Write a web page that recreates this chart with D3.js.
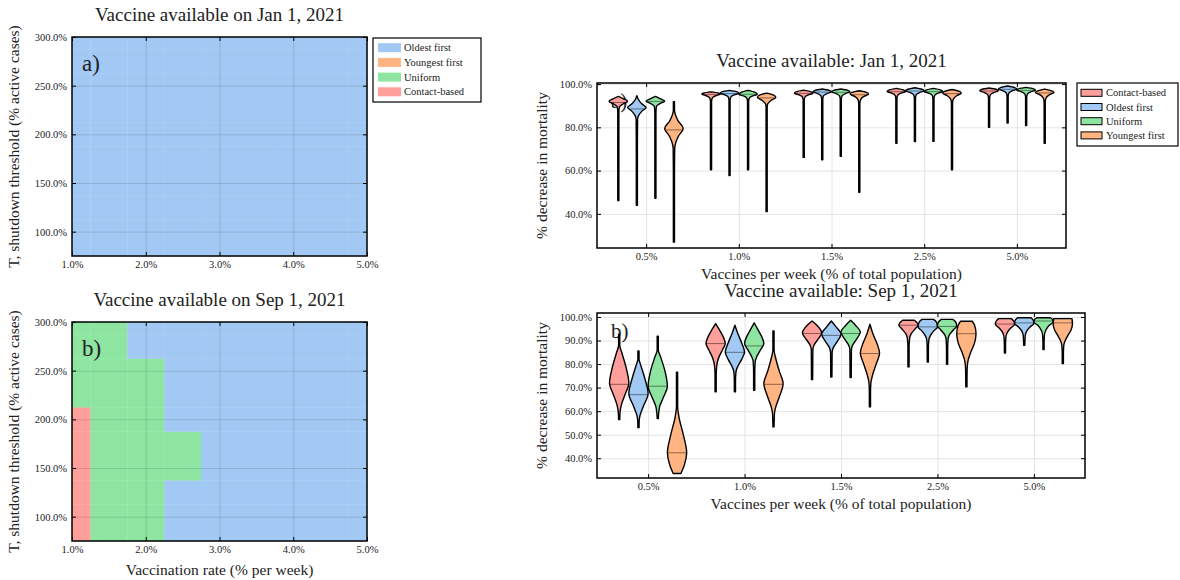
<!DOCTYPE html>
<html>
<head>
<meta charset="utf-8">
<script src="https://cdn.jsdelivr.net/npm/d3@7"></script>
<style>
  html, body { margin: 0; padding: 0; background: #fff; }
  svg { display: block; font-family: "Liberation Serif", "DejaVu Serif", serif; }
</style>
</head>
<body>
<svg id="fig" width="1180" height="580"></svg>
<script>
// ---- Heatmaps: best strategy by vaccination rate and shutdown threshold ----
const rates = [1.0, 1.5, 2.0, 2.5, 3.0, 3.5, 4.0, 4.5, 5.0];          // % per week
const thresholds = [75, 100, 125, 150, 175, 200, 225, 250, 275, 300]; // % active cases
const rateTicks = [1, 2, 3, 4, 5];
const thresholdTicks = [100, 150, 200, 250, 300];
const strategyNames = ["Oldest first", "Youngest first", "Uniform", "Contact-based"];
const strategyColors = ["#a1c9f4", "#ffb482", "#8de5a1", "#ff9f9b"];

// index into strategyNames, one row per threshold (75 → 300), one column per rate
const janBest = [
  [0, 0, 0, 0, 0, 0, 0, 0, 0],
  [0, 0, 0, 0, 0, 0, 0, 0, 0],
  [0, 0, 0, 0, 0, 0, 0, 0, 0],
  [0, 0, 0, 0, 0, 0, 0, 0, 0],
  [0, 0, 0, 0, 0, 0, 0, 0, 0],
  [0, 0, 0, 0, 0, 0, 0, 0, 0],
  [0, 0, 0, 0, 0, 0, 0, 0, 0],
  [0, 0, 0, 0, 0, 0, 0, 0, 0],
  [0, 0, 0, 0, 0, 0, 0, 0, 0],
  [0, 0, 0, 0, 0, 0, 0, 0, 0]
];
const sepBest = [
  [3, 2, 2, 0, 0, 0, 0, 0, 0],
  [3, 2, 2, 0, 0, 0, 0, 0, 0],
  [3, 2, 2, 0, 0, 0, 0, 0, 0],
  [3, 2, 2, 2, 0, 0, 0, 0, 0],
  [3, 2, 2, 2, 0, 0, 0, 0, 0],
  [3, 2, 2, 0, 0, 0, 0, 0, 0],
  [2, 2, 2, 0, 0, 0, 0, 0, 0],
  [2, 2, 2, 0, 0, 0, 0, 0, 0],
  [2, 2, 0, 0, 0, 0, 0, 0, 0],
  [2, 2, 0, 0, 0, 0, 0, 0, 0]
];

// ---- Violins: % decrease in mortality per dose rate and strategy ----
const doseGroups = ["0.5%", "1.0%", "1.5%", "2.5%", "5.0%"];
const violinStrategies = ["Contact-based", "Oldest first", "Uniform", "Youngest first"];
const violinColors = ["#ff9f9b", "#a1c9f4", "#8de5a1", "#ffb482"];
const janTicks = [40, 60, 80, 100];
const sepTicks = [40, 50, 60, 70, 80, 90, 100];

// density outline knots [value, relative half-width], from the top of each violin down
const janProfiles = [
  [ // 0.5%
    [[94.3,0],[93.2,0.55],[92.0,1],[90.8,0.5],[89.5,0.12],[87,0.06],[46.1,0.06]],
    [[94.6,0],[93,0.15],[91,0.5],[89.2,1],[87.5,0.55],[85.5,0.2],[83.8,0.08],[70,0.06],[44,0.06]],
    [[94.3,0],[93.3,0.5],[92.1,1],[91,0.5],[89.8,0.12],[87,0.06],[47.2,0.06]],
    [[91.8,0.06],[88,0.06],[86,0.15],[83,0.45],[79.5,1],[76,0.5],[73,0.2],[70,0.08],[60,0.06],[26.9,0.06]]
  ],
  [ // 1.0%
    [[96.4,0],[95.9,0.75],[95.4,1],[94.6,0.5],[93.6,0.14],[92,0.06],[60.4,0.06]],
    [[97.1,0],[96.5,0.75],[95.8,1],[95,0.5],[94,0.14],[92.5,0.06],[57.7,0.06]],
    [[97.1,0],[96.2,0.75],[95.3,1],[94.5,0.5],[93.5,0.14],[92,0.06],[60.4,0.06]],
    [[95.8,0],[95,0.7],[93.9,1],[92.5,0.5],[91,0.14],[89.5,0.06],[41,0.06]]
  ],
  [ // 1.5%
    [[97.2,0],[96.5,0.75],[95.8,1],[95,0.5],[94,0.14],[92.5,0.06],[66.1,0.06]],
    [[97.7,0],[97.1,0.75],[96.4,1],[95.6,0.5],[94.6,0.14],[93,0.06],[65,0.06]],
    [[97.7,0],[97.1,0.75],[96.4,1],[95.6,0.5],[94.6,0.14],[93,0.06],[66.6,0.06]],
    [[96.9,0],[96.2,0.75],[95.4,1],[94.3,0.5],[92.8,0.14],[91,0.06],[50,0.06]]
  ],
  [ // 2.5%
    [[98,0],[97.3,0.75],[96.6,1],[95.8,0.5],[94.8,0.14],[93.3,0.06],[72.6,0.06]],
    [[98.3,0],[97.6,0.75],[96.9,1],[96.1,0.5],[95.1,0.14],[93.6,0.06],[73.4,0.06]],
    [[98,0],[97.3,0.75],[96.6,1],[95.8,0.5],[94.8,0.14],[93.3,0.06],[73.5,0.06]],
    [[97.5,0],[96.7,0.75],[95.8,1],[94.6,0.5],[93,0.14],[91.3,0.06],[60.4,0.06]]
  ],
  [ // 5.0%
    [[98.2,0],[97.6,0.75],[96.9,1],[96.1,0.5],[95.1,0.14],[93.6,0.06],[80,0.06]],
    [[99.1,0],[98.4,0.75],[97.7,1],[96.9,0.5],[95.9,0.14],[94.4,0.06],[82,0.06]],
    [[98.5,0],[97.9,0.75],[97.2,1],[96.4,0.5],[95.4,0.14],[93.9,0.06],[80.8,0.06]],
    [[97.7,0],[96.9,0.75],[96.1,1],[95,0.5],[93.5,0.14],[91.8,0.06],[72.6,0.06]]
  ]
];
const janMedians = [
  [91.5, 88.5, 92.0, 78.8],
  [95.2, 95.6, 95.3, 93.6],
  [95.7, 96.3, 96.2, 95.1],
  [96.5, 96.8, 96.5, 95.6],
  [96.8, 97.6, 97.1, 95.9]
];

const sepProfiles = [
  [ // 0.5%
    [[92.7,0.06],[88,0.06],[84.5,0.3],[78,0.75],[72,1],[67,0.6],[63,0.25],[60,0.1],[56.4,0.06]],
    [[85.6,0.06],[82,0.06],[80,0.2],[74,0.65],[67.5,1],[62,0.5],[58,0.15],[55.5,0.07],[53,0.06]],
    [[91.8,0.06],[86,0.06],[83,0.3],[77,0.75],[70.6,1],[66,0.6],[62,0.2],[59,0.09],[56.9,0.06]],
    [[76.6,0.06],[62,0.06],[57.5,0.2],[50,0.65],[42.3,1],[37,0.75],[33.5,0.4]]
  ],
  [ // 1.0%
    [[97.2,0],[94.5,0.4],[91.5,0.8],[88.7,1],[86,0.7],[82.5,0.3],[79.5,0.12],[75,0.06],[68.2,0.06]],
    [[96.5,0],[93,0.3],[89,0.7],[85.1,1],[82,0.7],[79,0.3],[77,0.12],[73,0.06],[68.2,0.06]],
    [[97.5,0],[94.5,0.4],[91.5,0.8],[88.7,1],[86,0.65],[83,0.25],[81,0.1],[76,0.06],[68.9,0.06]],
    [[94.1,0.06],[86,0.06],[83,0.2],[77,0.6],[71.7,1],[66,0.6],[62,0.25],[59,0.1],[53.3,0.06]]
  ],
  [ // 1.5%
    [[98.3,0],[96.5,0.5],[93.2,1],[90.5,0.6],[88,0.2],[86,0.08],[73.4,0.06]],
    [[98.3,0],[96,0.45],[92.7,1],[89.5,0.6],[87,0.2],[85,0.08],[74.5,0.06]],
    [[98.6,0],[96.5,0.5],[93.6,1],[90.5,0.6],[88,0.2],[86,0.08],[74.3,0.06]],
    [[96.9,0],[93,0.3],[88.5,0.75],[84.7,1],[80,0.65],[75,0.25],[72,0.1],[68,0.06],[61.8,0.06]]
  ],
  [ // 2.5%
    [[98.6,0.6],[97.5,0.9],[96.5,1],[95,0.7],[93,0.3],[91,0.12],[87,0.06],[78.8,0.06]],
    [[99,0.6],[97.8,0.9],[95.8,1],[94,0.6],[92,0.25],[90,0.1],[86,0.06],[80.9,0.06]],
    [[99,0.6],[97.8,0.9],[96.2,1],[94.5,0.65],[92.5,0.25],[90.5,0.1],[86,0.06],[79.9,0.06]],
    [[98.2,0.6],[96.5,0.85],[93,1],[89,0.85],[85,0.45],[82,0.2],[78,0.08],[70.3,0.06]]
  ],
  [ // 5.0%
    [[99.3,0.65],[98.3,0.9],[96.9,1],[95.3,0.6],[93.5,0.25],[91.5,0.1],[88,0.06],[84.7,0.06]],
    [[99.7,0.7],[98.5,0.95],[97.2,1],[95.8,0.6],[94,0.25],[92,0.1],[88,0.06]],
    [[99.7,0.7],[98.8,0.95],[97.9,1],[96.5,0.6],[94.5,0.25],[92.5,0.1],[89,0.06],[86.2,0.06]],
    [[99.3,0.95],[97,1],[94.5,0.85],[92,0.5],[90,0.25],[88,0.1],[84,0.06],[80.2,0.06]]
  ]
];
const sepMedians = [
  [71.4, 67.0, 70.6, 42.3],
  [88.7, 85.0, 87.7, 71.4],
  [93.0, 92.2, 93.0, 84.5],
  [96.5, 95.8, 96.0, 92.9],
  [97.0, 97.5, 98.3, 97.5]
];

// ---------------------------------------------------------------------------
const svg = d3.select("#fig");
const FONT_TICK = 10.5, FONT_LABEL = 15.5, FONT_TITLE = 19;
const pct1 = d3.format(".1f");

function styleAxis(g) {
  g.select(".domain").remove();
  g.selectAll(".tick line").attr("stroke", "#000").attr("stroke-width", 1);
  g.selectAll(".tick text").attr("font-size", FONT_TICK)
    .attr("font-family", "Liberation Serif, serif").attr("fill", "#222");
}

function frame(box) {
  svg.append("rect")
    .attr("x", box.x0).attr("y", box.y0)
    .attr("width", box.x1 - box.x0).attr("height", box.y1 - box.y0)
    .attr("fill", "none").attr("stroke", "#000").attr("stroke-width", 1.5);
}

function textAt(x, y, str, size, anchor, rotate) {
  const t = svg.append("text")
    .attr("font-size", size).attr("fill", "#222")
    .attr("text-anchor", anchor || "middle")
    .text(str);
  if (rotate) t.attr("transform", `translate(${x},${y}) rotate(-90)`);
  else t.attr("x", x).attr("y", y);
  return t;
}

// ---------------- Heatmap panels ----------------
function heatmap(box, best, title, letter, xLabel) {
  const x = d3.scaleLinear().domain([1, 5]).range([box.x0, box.x1]);
  const y = d3.scaleLinear().domain([75, 300]).range([box.y1, box.y0]);
  const g = svg.append("g");
  const half = 0.25, halfT = 12.5;
  best.forEach((row, ti) => {
    row.forEach((s, ri) => {
      const xa = x(Math.max(1, rates[ri] - half)), xb = x(Math.min(5, rates[ri] + half));
      const ya = y(Math.min(300, thresholds[ti] + halfT)), yb = y(Math.max(75, thresholds[ti] - halfT));
      g.append("rect").attr("x", xa).attr("y", ya)
        .attr("width", xb - xa + 0.3).attr("height", yb - ya + 0.3)
        .attr("fill", strategyColors[s]);
    });
  });
  // grid
  svg.append("g").attr("transform", `translate(0,${box.y1})`)
    .call(d3.axisBottom(x).tickValues([2, 3, 4]).tickSize(-(box.y1 - box.y0)).tickFormat(""))
    .call(a => { a.select(".domain").remove(); a.selectAll("line").attr("stroke", "rgba(0,0,0,0.12)"); });
  svg.append("g").attr("transform", `translate(${box.x0},0)`)
    .call(d3.axisLeft(y).tickValues(thresholdTicks.slice(0, 4)).tickSize(-(box.x1 - box.x0)).tickFormat(""))
    .call(a => { a.select(".domain").remove(); a.selectAll("line").attr("stroke", "rgba(0,0,0,0.12)"); });
  // axes with inward ticks
  svg.append("g").attr("transform", `translate(0,${box.y1})`)
    .call(d3.axisBottom(x).tickValues(rateTicks).tickSize(-4).tickPadding(5).tickFormat(d => pct1(d) + "%"))
    .call(styleAxis);
  svg.append("g").attr("transform", `translate(0,${box.y0})`)
    .call(d3.axisTop(x).tickValues(rateTicks).tickSize(-4).tickFormat(""))
    .call(styleAxis);
  svg.append("g").attr("transform", `translate(${box.x0},0)`)
    .call(d3.axisLeft(y).tickValues(thresholdTicks).tickSize(-4).tickPadding(5).tickFormat(d => pct1(d) + "%"))
    .call(styleAxis);
  svg.append("g").attr("transform", `translate(${box.x1},0)`)
    .call(d3.axisRight(y).tickValues(thresholdTicks).tickSize(-4).tickFormat(""))
    .call(styleAxis);
  frame(box);
  textAt((box.x0 + box.x1) / 2, box.y0 - 16, title, FONT_TITLE);
  textAt(box.x0 + 10, box.y0 + 34, letter, 23, "start");
  textAt(box.x0 - 53, (box.y0 + box.y1) / 2, "T, shutdown threshold (% active cases)", FONT_LABEL, "middle", true);
  if (xLabel) textAt((box.x0 + box.x1) / 2, box.y1 + 34, xLabel, FONT_LABEL);
}

const L1 = { x0: 72, x1: 367, y0: 37, y1: 256 };
const L2 = { x0: 72, x1: 367, y0: 322, y1: 541 };
heatmap(L1, janBest, "Vaccine available on Jan 1, 2021", "a)");
heatmap(L2, sepBest, "Vaccine available on Sep 1, 2021", "b)", "Vaccination rate (% per week)");

// legend for heatmaps
(function () {
  const lx = 373, ly = 38;
  svg.append("rect").attr("x", lx).attr("y", ly).attr("width", 108).attr("height", 64)
    .attr("fill", "#fff").attr("stroke", "#000").attr("stroke-width", 1.2);
  strategyNames.forEach((n, i) => {
    const cy = ly + 9.7 + i * 14.7;
    svg.append("rect").attr("x", lx + 5).attr("y", cy - 4.5).attr("width", 23).attr("height", 9)
      .attr("fill", strategyColors[i]);
    textAt(lx + 31, cy + 3.5, n, 10.5, "start");
  });
})();

// ---------------- Violin panels ----------------
const offsets = [-0.3, -0.1, 0.1, 0.3];
const halfWidth = 0.1;

function violins(box, profiles, medians, yDomain, yTicks, title, letter) {
  const x = d3.scaleLinear().domain([0.47, 5.53]).range([box.x0, box.x1]);
  const y = d3.scaleLinear().domain(yDomain).range([box.y1, box.y0]);
  const wpx = x(1 + halfWidth) - x(1);
  // grid
  svg.append("g").attr("transform", `translate(0,${box.y1})`)
    .call(d3.axisBottom(x).tickValues([1, 2, 3, 4, 5]).tickSize(-(box.y1 - box.y0)).tickFormat(""))
    .call(a => { a.select(".domain").remove(); a.selectAll("line").attr("stroke", "#e4e4e4"); });
  svg.append("g").attr("transform", `translate(${box.x0},0)`)
    .call(d3.axisLeft(y).tickValues(yTicks).tickSize(-(box.x1 - box.x0)).tickFormat(""))
    .call(a => { a.select(".domain").remove(); a.selectAll("line").attr("stroke", "#e4e4e4"); });

  textAt(box.x0 + 14, box.y0 + 25, letter, 21, "start");

  const clipId = "clip" + Math.round(box.y0);
  svg.append("clipPath").attr("id", clipId).append("rect")
    .attr("x", box.x0).attr("y", box.y0).attr("width", box.x1 - box.x0).attr("height", box.y1 - box.y0);
  const vg = svg.append("g").attr("clip-path", `url(#${clipId})`);

  profiles.forEach((grp, gi) => {
    grp.forEach((prof, si) => {
      const cx = x(gi + 1 + offsets[si]);
      const area = d3.area()
        .y(d => y(d[0]))
        .x0(d => cx - d[1] * wpx)
        .x1(d => cx + d[1] * wpx)
        .curve(d3.curveMonotoneY);
      vg.append("path").attr("d", area(prof))
        .attr("fill", violinColors[si])
        .attr("stroke", "#000").attr("stroke-width", 1.4).attr("stroke-linejoin", "round");
      const m = medians[gi][si];
      const wAt = d3.scaleLinear().domain(prof.map(d => d[0])).range(prof.map(d => d[1])).clamp(true);
      const mw = wAt(m) * wpx;
      vg.append("line").attr("x1", cx - mw).attr("x2", cx + mw)
        .attr("y1", y(m)).attr("y2", y(m))
        .attr("stroke", "rgba(0,0,0,0.5)").attr("stroke-width", 0.9);
    });
  });

  svg.append("g").attr("transform", `translate(0,${box.y1})`)
    .call(d3.axisBottom(x).tickValues([1, 2, 3, 4, 5]).tickSize(-4).tickPadding(5).tickFormat(d => doseGroups[d - 1]))
    .call(styleAxis);
  svg.append("g").attr("transform", `translate(0,${box.y0})`)
    .call(d3.axisTop(x).tickValues([1, 2, 3, 4, 5]).tickSize(-4).tickFormat(""))
    .call(styleAxis);
  svg.append("g").attr("transform", `translate(${box.x0},0)`)
    .call(d3.axisLeft(y).tickValues(yTicks).tickSize(-4).tickPadding(5).tickFormat(d => pct1(d) + "%"))
    .call(styleAxis);
  svg.append("g").attr("transform", `translate(${box.x1},0)`)
    .call(d3.axisRight(y).tickValues(yTicks).tickSize(-4).tickFormat(""))
    .call(styleAxis);
  frame(box);
  textAt((box.x0 + box.x1) / 2, box.y0 - 16, title, FONT_TITLE);
  textAt((box.x0 + box.x1) / 2, box.y1 + 31, "Vaccines per week (% of total population)", FONT_LABEL);
  textAt(box.x0 - 50, (box.y0 + box.y1) / 2, "% decrease in mortality", FONT_LABEL, "middle", true);
}

const R1 = { x0: 597, x1: 1066, y0: 83, y1: 248 };
const R2 = { x0: 597, x1: 1085, y0: 313, y1: 478 };
violins(R1, janProfiles, janMedians, [24.2, 100.5], janTicks, "Vaccine available:  Jan 1, 2021", "a)");
violins(R2, sepProfiles, sepMedians, [31.6, 101.7], sepTicks, "Vaccine available:  Sep 1, 2021", "b)");

// legend for violins
(function () {
  const lx = 1077, ly = 83;
  svg.append("rect").attr("x", lx).attr("y", ly).attr("width", 101).attr("height", 63)
    .attr("fill", "#fff").attr("stroke", "#000").attr("stroke-width", 1.2);
  violinStrategies.forEach((n, i) => {
    const cy = ly + 9.8 + i * 14.2;
    svg.append("rect").attr("x", lx + 4).attr("y", cy - 3.5).attr("width", 21).attr("height", 7)
      .attr("fill", violinColors[i]).attr("stroke", "#000").attr("stroke-width", 1);
    textAt(lx + 29, cy + 3.5, n, 10.5, "start");
  });
})();
</script>
</body>
</html>
